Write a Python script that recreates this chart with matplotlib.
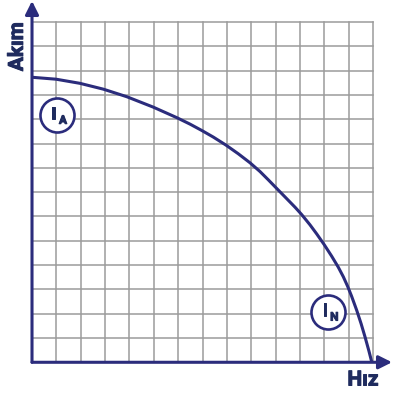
import numpy as np
import matplotlib
matplotlib.use("Agg")
import matplotlib.pyplot as plt
import matplotlib.patheffects as pe

# curve, in grid cells (14 x 14 grid)
speed = [0.00, 0.99, 1.97, 2.93, 3.89, 4.98, 5.94, 6.49, 6.97, 7.44,
         7.96, 8.47, 8.95, 9.36, 9.70, 10.05, 10.46, 10.80, 11.07, 11.41,
         11.69, 11.99, 12.30, 12.57, 12.78, 12.96, 13.12, 13.33, 13.51, 13.67,
         13.83, 13.95]
current = [11.73, 11.65, 11.48, 11.24, 10.93, 10.50, 10.07, 9.80, 9.54, 9.27,
           8.94, 8.58, 8.21, 7.85, 7.51, 7.15, 6.73, 6.38, 6.08, 5.66,
           5.28, 4.85, 4.37, 3.92, 3.52, 3.12, 2.72, 2.14, 1.59, 1.05,
           0.47, 0.00]

n_cells = 14
marker_pos = [(1.01, 10.18), (12.15, 2.08)]
marker_sub = ["A", "N"]
x_label = "Hız"
y_label = "Akım"

navy = "#2b2c7c"
text_navy = "#1f2b5e"
grid_gray = "#9b9b9b"
fam = ["Liberation Sans Narrow", "Roboto", "DejaVu Sans"]

fig = plt.figure(figsize=(3.93, 3.98), dpi=100)
ax = fig.add_axes([0, 0, 1, 1])
ax.set_xlim(-1.314, 14.82)
ax.set_ylim(-1.47, 14.91)
ax.axis('off')

# grid
for k in range(1, n_cells + 1):
    ax.plot([k, k], [0, n_cells], color=grid_gray, lw=1.1, zorder=1)
    ax.plot([0, n_cells], [k, k], color=grid_gray, lw=1.1, zorder=1)

# axes with arrows
arr = dict(arrowstyle='-|>,head_length=0.8,head_width=0.4', lw=2.2,
           color=navy, shrinkA=0, shrinkB=0)
ax.annotate('', xy=(0, 14.87), xytext=(0, 0), arrowprops=arr, zorder=3)
ax.annotate('', xy=(14.78, 0), xytext=(0, 0), arrowprops=arr, zorder=3)

ax.plot(speed, current, color=navy, lw=2.2, zorder=4, solid_capstyle='butt',
        solid_joinstyle='round')

thick = [pe.withStroke(linewidth=0.7, foreground=text_navy)]

# circled labels
for (cx, cy), sub in zip(marker_pos, marker_sub):
    ax.plot(cx, cy, 'o', ms=24.5, mfc='white', mec=navy, mew=1.9, zorder=5)
    ax.text(cx - 0.12, cy + 0.02, "I", ha='center', va='center', fontsize=13,
            fontweight='bold', color=text_navy, family=fam, zorder=6,
            path_effects=thick)
    ax.text(cx + 0.26, cy - 0.22, sub, ha='center', va='center', fontsize=8.5,
            fontweight='bold', color=text_navy, family=fam, zorder=6,
            path_effects=thick)

ax.text(-0.6, 12.99, y_label, rotation=90, ha='center', va='center', fontsize=15,
        fontweight='bold', color=text_navy, family=fam, path_effects=thick)
ax.text(13.59, -0.73, x_label, ha='center', va='center', fontsize=15,
        fontweight='bold', color=text_navy, family=fam, path_effects=thick)

fig.savefig("out.png", dpi=100)
